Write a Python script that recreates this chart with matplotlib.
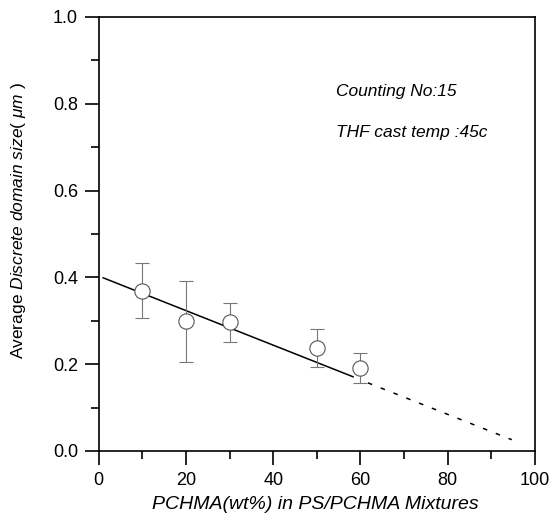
import numpy as np
import matplotlib
matplotlib.use("Agg")
import matplotlib.pyplot as plt

plt.rcParams['font.family'] = ['Liberation Sans', 'DejaVu Sans']
plt.rcParams['mathtext.fontset'] = 'custom'
plt.rcParams['mathtext.rm'] = 'Liberation Sans'
plt.rcParams['mathtext.it'] = 'Liberation Sans:italic'

# dados
pchma = [10, 20, 30, 50, 60]
tamanho = [0.368, 0.300, 0.297, 0.237, 0.191]
erro_sup = [0.432, 0.391, 0.342, 0.281, 0.225]
erro_inf = [0.307, 0.206, 0.252, 0.194, 0.156]

# reta de ajuste (trecho continuo e extrapolado)
reta_x = [1, 58.3]
reta_y = [0.399, 0.171]
extrap_x = [61.7, 94.7]
extrap_y = [0.157, 0.026]

yerr = [np.array(tamanho) - np.array(erro_inf), np.array(erro_sup) - np.array(tamanho)]

fig = plt.figure(figsize=(5.52, 5.14), dpi=100)
ax = fig.add_axes([0.179, 0.1226, 0.790, 0.8444])

ax.plot(reta_x, reta_y, color='black', lw=1.1, zorder=2)
ax.plot(extrap_x, extrap_y, color='black', lw=1.1, linestyle=(0, (3, 6)), zorder=2)
ax.errorbar(pchma, tamanho, yerr=yerr, fmt='none', ecolor='#777777', elinewidth=0.8,
            capsize=5, capthick=0.8, zorder=3)
ax.plot(pchma, tamanho, 'o', ms=11, mfc='white', mec='#555555', mew=0.8, zorder=4)

ax.text(54.4, 0.828, 'Counting No:15', fontsize=12.5, style='italic', va='center')
ax.text(54.4, 0.733, 'THF cast temp :45c', fontsize=12.5, style='italic', va='center')

ax.set_xlim(0, 100)
ax.set_ylim(0, 1.0)
ax.set_xticks(np.arange(0, 101, 20))
ax.set_xticks(np.arange(10, 100, 20), minor=True)
ax.set_yticks(np.arange(0, 1.01, 0.2))
ax.set_yticks(np.arange(0.1, 1.0, 0.2), minor=True)
ax.set_yticklabels(['0.0', '0.2', '0.4', '0.6', '0.8', '1.0'])
ax.tick_params(which='major', direction='out', length=10, width=1.2, labelsize=13, pad=5)
ax.tick_params(which='minor', direction='out', length=5.5, width=1.2)
for s in ax.spines.values():
    s.set_linewidth(1.2)

ax.set_xlabel('PCHMA(wt%) in PS/PCHMA Mixtures', fontsize=14, style='italic')
ax.set_ylabel(r'Average $\mathit{Discrete\ domain\ size(\ \mu m\ )}$', fontsize=12.5)
ax.xaxis.set_label_coords(0.497, -0.103)
ax.yaxis.set_label_coords(-0.163, 0.532)

fig.savefig('out.png', dpi=100)
